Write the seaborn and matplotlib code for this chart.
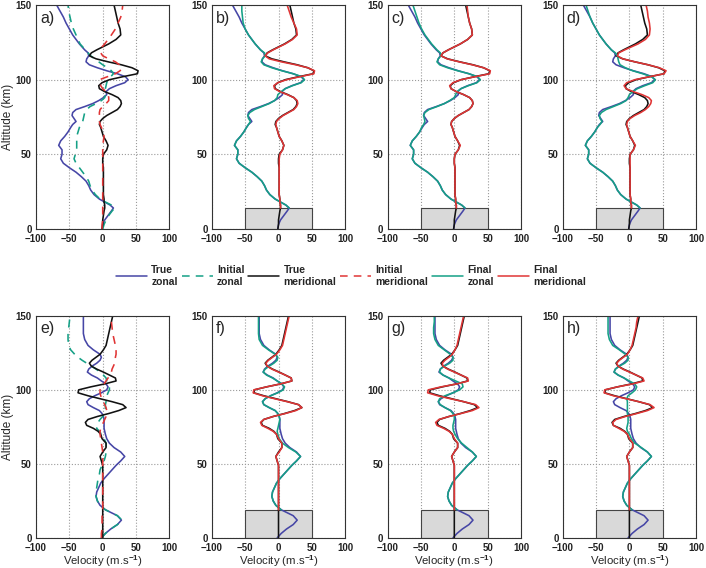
import matplotlib
matplotlib.use("Agg")
import matplotlib.pyplot as plt
import seaborn as sns
from matplotlib.lines import Line2D
from matplotlib.patches import Rectangle

# ---- altitude grids (km) ----
alt_top = [0, 3, 6, 9, 12, 14, 16, 18, 20, 23, 26, 29, 32, 35, 38, 41, 44, 47, 50, 53,
           56, 59, 62, 65, 68, 70, 72, 74, 76, 78, 80, 82, 84, 86, 88, 90, 92, 94, 96, 98,
           100, 102, 104, 106, 108, 110, 112, 114, 116, 118, 120, 122, 124, 127, 130, 134,
           138, 142, 146, 150]
alt_top_fin = alt_top[5:]   # final profiles start at the top of the box (14 km)

alt_bot = [0, 3, 6, 9, 12, 15, 19, 22, 25, 28, 31, 34, 37, 40, 43, 46, 49, 52, 55, 58,
           61, 64, 67, 70, 72, 74, 76, 78, 80, 82, 84, 86, 88, 90, 92, 94, 96, 98, 100,
           102, 104, 106, 108, 110, 112, 114, 116, 118, 120, 122, 124, 127, 130, 134, 138,
           142, 146, 150]
alt_bot_fin = alt_bot[6:]   # starts at 19 km

# ---- top row (a-d) ----
true_zonal_top = [-1, 0, 3, 8, 13, 16, 11, 3, -5, -13, -18, -21, -25, -32, -40, -50, -59, -63, -61, -61,
                  -66, -63, -57, -52, -48, -45, -40, -43, -46, -45, -40, -27, -15, -6, 1, 6, 5, 10, 20, 33,
                  38, 34, 22, 6, -8, -20, -25, -24, -21, -22, -27, -31, -35, -40, -45, -50,
                  -55, -59, -64, -69]
true_merid_top = [-1, 0, 0, 1, 2, 3, 3, 2, 2, 1, 1, 1, 1, 1, 1, 1, 0, 0, 1, 6,
                  8, 5, 1, -1, -3, -5, -4, 0, 6, 14, 22, 26, 28, 27, 23, 14, 3, -5, -6, -1,
                  10, 30, 52, 53, 44, 28, 8, -10, -20, -17, -9, 0, 9, 20, 27, 26,
                  23, 21, 19, 17]
init_zonal_top = [0, 2, 5, 9, 14, 18, 13, 4, -4, -11, -16, -19, -21, -25, -30, -35, -40, -43, -41, -39,
                  -39, -39, -39, -37, -35, -33, -30, -29, -28, -27, -24, -19, -10, -2, 3, 4, 4, 4, 5, 6,
                  8, 12, 16, 13, 7, 0, -6, -12, -18, -22, -26, -30, -34, -37, -40, -44,
                  -47, -49, -51, -52]
init_merid_top = [-1, -1, 0, 0, 0, 0, 0, 0, 0, 0, 0, 0, 0, 0, 0, 0, 0, 0, 0, 0,
                  0, 1, 2, 1, -2, -4, -5, -5, -5, -5, -4, 0, 5, 9, 9, 8, 5, 0, -3, -4,
                  -5, 7, 19, 26, 29, 25, 19, 9, 0, -3, -3, -1, 3, 8, 13, 19,
                  23, 27, 29, 30]

final_zonal_b = [16, 11, 3, -5, -13, -18, -21, -25, -32, -40, -50, -59, -63, -61, -61,
                 -66, -63, -57, -52, -48, -45, -42, -45, -46, -43, -36, -25, -14, -6, -2, -1, 4, 10, 21, 34,
                 39, 35, 22, 5, -10, -22, -26, -24, -20, -21, -27, -31, -35, -40, -45, -50,
                 -53, -54, -55, -55]
final_merid_b = [3, 3, 2, 2, 1, 1, 1, 1, 1, 1, 1, 1, 1, 2, 6,
                 8, 5, 1, -1, -3, -4, -3, 1, 7, 15, 23, 27, 29, 28, 23, 13, 2, -6, -7, -1,
                 12, 32, 53, 54, 44, 26, 4, -14, -20, -16, -8, 1, 10, 21, 28, 27,
                 23, 19, 16, 13]
final_zonal_c = [16, 11, 3, -5, -13, -18, -21, -25, -32, -40, -50, -59, -63, -61, -61,
                 -66, -63, -57, -52, -49, -46, -44, -45, -46, -44, -38, -26, -15, -7, 0, 2, 4, 10, 21, 34,
                 39, 35, 22, 5, -10, -22, -26, -24, -20, -21, -26, -30, -34, -39, -44, -49,
                 -53, -56, -59, -62]
final_merid_c = [3, 3, 2, 2, 1, 1, 1, 1, 1, 1, 1, 0, 0, 1, 6,
                 9, 5, 1, -1, -3, -5, -4, 0, 6, 14, 22, 26, 28, 27, 23, 14, 3, -5, -7, -2,
                 10, 31, 53, 54, 44, 27, 7, -11, -20, -17, -9, 0, 9, 20, 27, 26,
                 23, 21, 20, 19]
final_zonal_d = [16, 11, 3, -5, -13, -18, -21, -25, -32, -40, -50, -59, -63, -61, -61,
                 -66, -63, -57, -52, -48, -44, -41, -44, -45, -42, -35, -24, -13, -5, -2, 0, 5, 12, 23, 35,
                 39, 33, 20, 5, -6, -14, -16, -17, -18, -21, -27, -31, -35, -40, -45, -50,
                 -55, -59, -62, -65]
final_merid_d = [3, 3, 2, 2, 1, 1, 1, 1, 1, 1, 1, 1, 1, 1, 6,
                 9, 5, 1, -1, -3, -4, -3, 1, 8, 17, 24, 29, 32, 33, 29, 19, 6, -5, -8, -4,
                 8, 30, 52, 55, 45, 28, 8, -10, -18, -16, -7, 3, 13, 24, 30, 31,
                 30, 28, 27, 25]

# ---- bottom row (e-h) ----
true_zonal_bot = [-2, 4, 12, 22, 28, 22, 4, -4, -8, -10, -9, -6, -3, 2, 8, 14, 20, 27, 33, 27,
                  17, 10, 6, 4, 3, 2, 2, 2, 2, 1, -1, -5, -14, -22, -24, -20, -12, -2, 6,
                  8, 5, -2, -8, -17, -23, -21, -16, -9, -4, -2, -4, -14, -22, -27, -29,
                  -29, -29, -29]
true_merid_bot = [0, 0, 0, 0, 0, 0, 0, 0, 0, 0, 0, 0, 0, 0, 0, 0, 0, -2, -4, 0,
                  5, 5, -1, -3, -7, -14, -24, -26, -22, -8, 9, 24, 35, 30, 14, -4, -22, -37, -36,
                  -18, 3, 20, 19, 10, 1, -9, -17, -20, -16, -10, -4, 1, 5, 7, 9,
                  11, 13, 15]
init_zonal_bot = [-2, 4, 12, 22, 29, 22, 4, -4, -8, -10, -10, -9, -8, -7, -5, -4, -1, 2, 4, 5,
                  5, 5, 2, -2, -5, -9, -9, -7, -4, 0, 2, 3, 4, 4, 5, 5, 6, 8, 10,
                  10, 8, 6, 5, 1, -4, -10, -17, -24, -31, -37, -42, -48, -51, -52, -52,
                  -51, -50, -49]
init_merid_bot = [-2, -2, -1, -1, -1, -1, 0, 0, 0, 0, 0, 0, 0, 0, 0, 0, 0, 0, 0, 0,
                  -1, -2, -3, -4, -4, -3, -1, 1, 3, 5, 6, 6, 5, 3, 1, -1, -3, -4, -4,
                  -2, 2, 5, 8, 11, 13, 14, 16, 18, 19, 19, 20, 20, 19, 17, 15,
                  14, 13, 13]

final_zonal_f = [4, -4, -8, -10, -9, -6, -3, 2, 8, 14, 20, 27, 33, 26, 15, 6, 1,
                 -1, -2, -1, 0, 1, 2, 1, -1, -5, -14, -22, -24, -20, -12, -1, 7, 9, 5,
                 -2, -9, -18, -23, -20, -14, -7, -2, -1, -5, -15, -24, -29, -30, -30, -30, -30]
final_merid_f = [0, 0, 0, 0, 0, 0, 0, 0, 0, 0, 0, -2, -4, 1, 5, 5, 0,
                 -3, -8, -16, -25, -27, -22, -8, 10, 26, 35, 30, 13, -6, -24, -38, -37, -18, 3,
                 20, 19, 10, 0, -10, -17, -19, -15, -9, -3, 2, 6, 8, 10, 12, 14, 16]
final_zonal_g = [4, -4, -8, -10, -9, -6, -3, 2, 8, 14, 20, 27, 33, 27, 19, 11, 5,
                 1, -1, -2, -2, -1, 0, 0, -2, -6, -14, -21, -24, -22, -14, -2, 8, 13, 12,
                 2, -8, -17, -22, -21, -15, -7, -2, -2, -6, -15, -24, -29, -31, -31, -30, -30]
final_merid_g = [0, 0, 0, 0, 0, 0, 0, 0, 0, 0, 0, -2, -4, 0, 5, 5, 0,
                 -3, -8, -16, -26, -28, -23, -8, 10, 27, 37, 32, 14, -6, -25, -40, -39, -20, 4,
                 21, 20, 10, 0, -10, -17, -18, -14, -8, -3, 1, 4, 6, 8, 10, 12, 14]
final_zonal_h = [4, -4, -8, -10, -9, -6, -3, 2, 8, 14, 20, 27, 33, 27, 18, 8, 3,
                 0, -3, -4, -3, -2, -2, -2, -3, -3, -3, -3, -3, -4, -2, 4, 9, 11, 8,
                 0, -8, -17, -23, -21, -15, -7, -2, -2, -6, -15, -25, -30, -32, -32, -32, -32]
final_merid_h = [0, 0, 0, 0, 0, 0, 0, 0, 0, 0, 0, -2, -4, 0, 5, 5, 0,
                 -3, -8, -16, -24, -25, -20, -6, 11, 27, 37, 31, 14, -5, -24, -38, -37, -18, 5,
                 22, 20, 10, 0, -10, -17, -19, -15, -9, -3, 1, 4, 6, 8, 10, 11, 13]

box_top_row = 14      # km, grey box height in top row
box_bot_row = 19      # km, grey box height in bottom row
box_u = (-50, 50)

C_TZ = '#4646a6'
C_TM = '#111111'
C_FZ = '#15a086'
C_FM = '#e03535'

sns.set_style("white")
plt.rcParams['font.family'] = ['Liberation Sans', 'DejaVu Sans']
plt.rcParams['font.weight'] = 'bold'
plt.rcParams['mathtext.fontset'] = 'custom'
plt.rcParams['mathtext.bf'] = 'Liberation Sans:bold'
plt.rcParams['mathtext.rm'] = 'Liberation Sans:bold'
plt.rcParams['mathtext.default'] = 'bf'

fig = plt.figure(figsize=(7.06, 5.68), dpi=100)
lefts = [0.051, 0.300, 0.549, 0.797]
width = 0.189
row_pos = [(0.597, 0.394), (0.053, 0.391)]


def prof(ax, u, alt, color, ls='-', lw=1.15):
    sns.lineplot(x=u, y=alt, orient='y', estimator=None, ax=ax,
                 color=color, linestyle=ls, linewidth=lw)


def style_axes(ax, label, box_h=None, ylab=False, xlab=False):
    ax.set_xlim(-100, 100)
    ax.set_ylim(0, 150)
    ax.set_xticks([-100, -50, 0, 50, 100])
    ax.set_yticks([0, 50, 100, 150])
    ax.grid(True, linestyle=':', color='#9a9a9a', linewidth=0.8)
    ax.tick_params(direction='in', length=3, width=0.6, labelsize=7,
                   colors='#222222')
    ax.tick_params(axis='x', pad=3.5)
    ax.tick_params(axis='y', pad=3)
    for s in ax.spines.values():
        s.set_color('#333333')
        s.set_linewidth(0.8)
    if box_h is not None:
        ax.add_patch(Rectangle((box_u[0], 0), box_u[1] - box_u[0], box_h,
                               facecolor='#d9d9d9', edgecolor='#444444',
                               linewidth=0.8, zorder=1.5))
    ax.text(0.03, 0.975, label, transform=ax.transAxes, va='top', ha='left',
            fontsize=11.5, fontweight='normal')
    ax.set_ylabel('Altitude (km)' if ylab else '', fontsize=8.5, labelpad=1)
    ax.set_xlabel(r'Velocity (m.s$^{-1}$)' if xlab else '', fontsize=8.2, labelpad=0)


# top row
ax = fig.add_axes([lefts[0], row_pos[0][0], width, row_pos[0][1]])
prof(ax, true_zonal_top, alt_top, C_TZ)
prof(ax, init_zonal_top, alt_top, C_FZ, ls=(0, (5, 4)))
prof(ax, true_merid_top, alt_top, C_TM)
prof(ax, init_merid_top, alt_top, C_FM, ls=(0, (5, 4)))
style_axes(ax, 'a)', ylab=True)

for i, (lab, fz, fm) in enumerate([('b)', final_zonal_b, final_merid_b),
                                   ('c)', final_zonal_c, final_merid_c),
                                   ('d)', final_zonal_d, final_merid_d)]):
    ax = fig.add_axes([lefts[i + 1], row_pos[0][0], width, row_pos[0][1]])
    prof(ax, true_zonal_top, alt_top, C_TZ)
    prof(ax, true_merid_top, alt_top, C_TM)
    prof(ax, fz, alt_top_fin, C_FZ)
    prof(ax, fm, alt_top_fin, C_FM)
    style_axes(ax, lab, box_h=box_top_row)

# bottom row
ax = fig.add_axes([lefts[0], row_pos[1][0], width, row_pos[1][1]])
prof(ax, true_zonal_bot, alt_bot, C_TZ)
prof(ax, init_zonal_bot, alt_bot, C_FZ, ls=(0, (5, 4)))
prof(ax, true_merid_bot, alt_bot, C_TM)
prof(ax, init_merid_bot, alt_bot, C_FM, ls=(0, (5, 4)))
style_axes(ax, 'e)', ylab=True, xlab=True)

for i, (lab, fz, fm) in enumerate([('f)', final_zonal_f, final_merid_f),
                                   ('g)', final_zonal_g, final_merid_g),
                                   ('h)', final_zonal_h, final_merid_h)]):
    ax = fig.add_axes([lefts[i + 1], row_pos[1][0], width, row_pos[1][1]])
    prof(ax, true_zonal_bot, alt_bot, C_TZ)
    prof(ax, true_merid_bot, alt_bot, C_TM)
    prof(ax, fz, alt_bot_fin, C_FZ)
    prof(ax, fm, alt_bot_fin, C_FM)
    style_axes(ax, lab, box_h=box_bot_row, xlab=True)

# shared legend between the rows
handles = [Line2D([], [], color=C_TZ, lw=1.1),
           Line2D([], [], color=C_FZ, lw=1.1, ls=(0, (5, 4))),
           Line2D([], [], color=C_TM, lw=1.1),
           Line2D([], [], color=C_FM, lw=1.1, ls=(0, (5, 4))),
           Line2D([], [], color=C_FZ, lw=1.1),
           Line2D([], [], color=C_FM, lw=1.1)]
labels = ['True\nzonal', 'Initial\nzonal', 'True\nmeridional',
          'Initial\nmeridional', 'Final\nzonal', 'Final\nmeridional']
fig.legend(handles, labels, loc='center', bbox_to_anchor=(0.497, 0.514), ncol=6,
           frameon=False, fontsize=7.5, handlelength=3.0, handletextpad=0.4,
           columnspacing=0.35)

fig.savefig('out.png', dpi=100)
